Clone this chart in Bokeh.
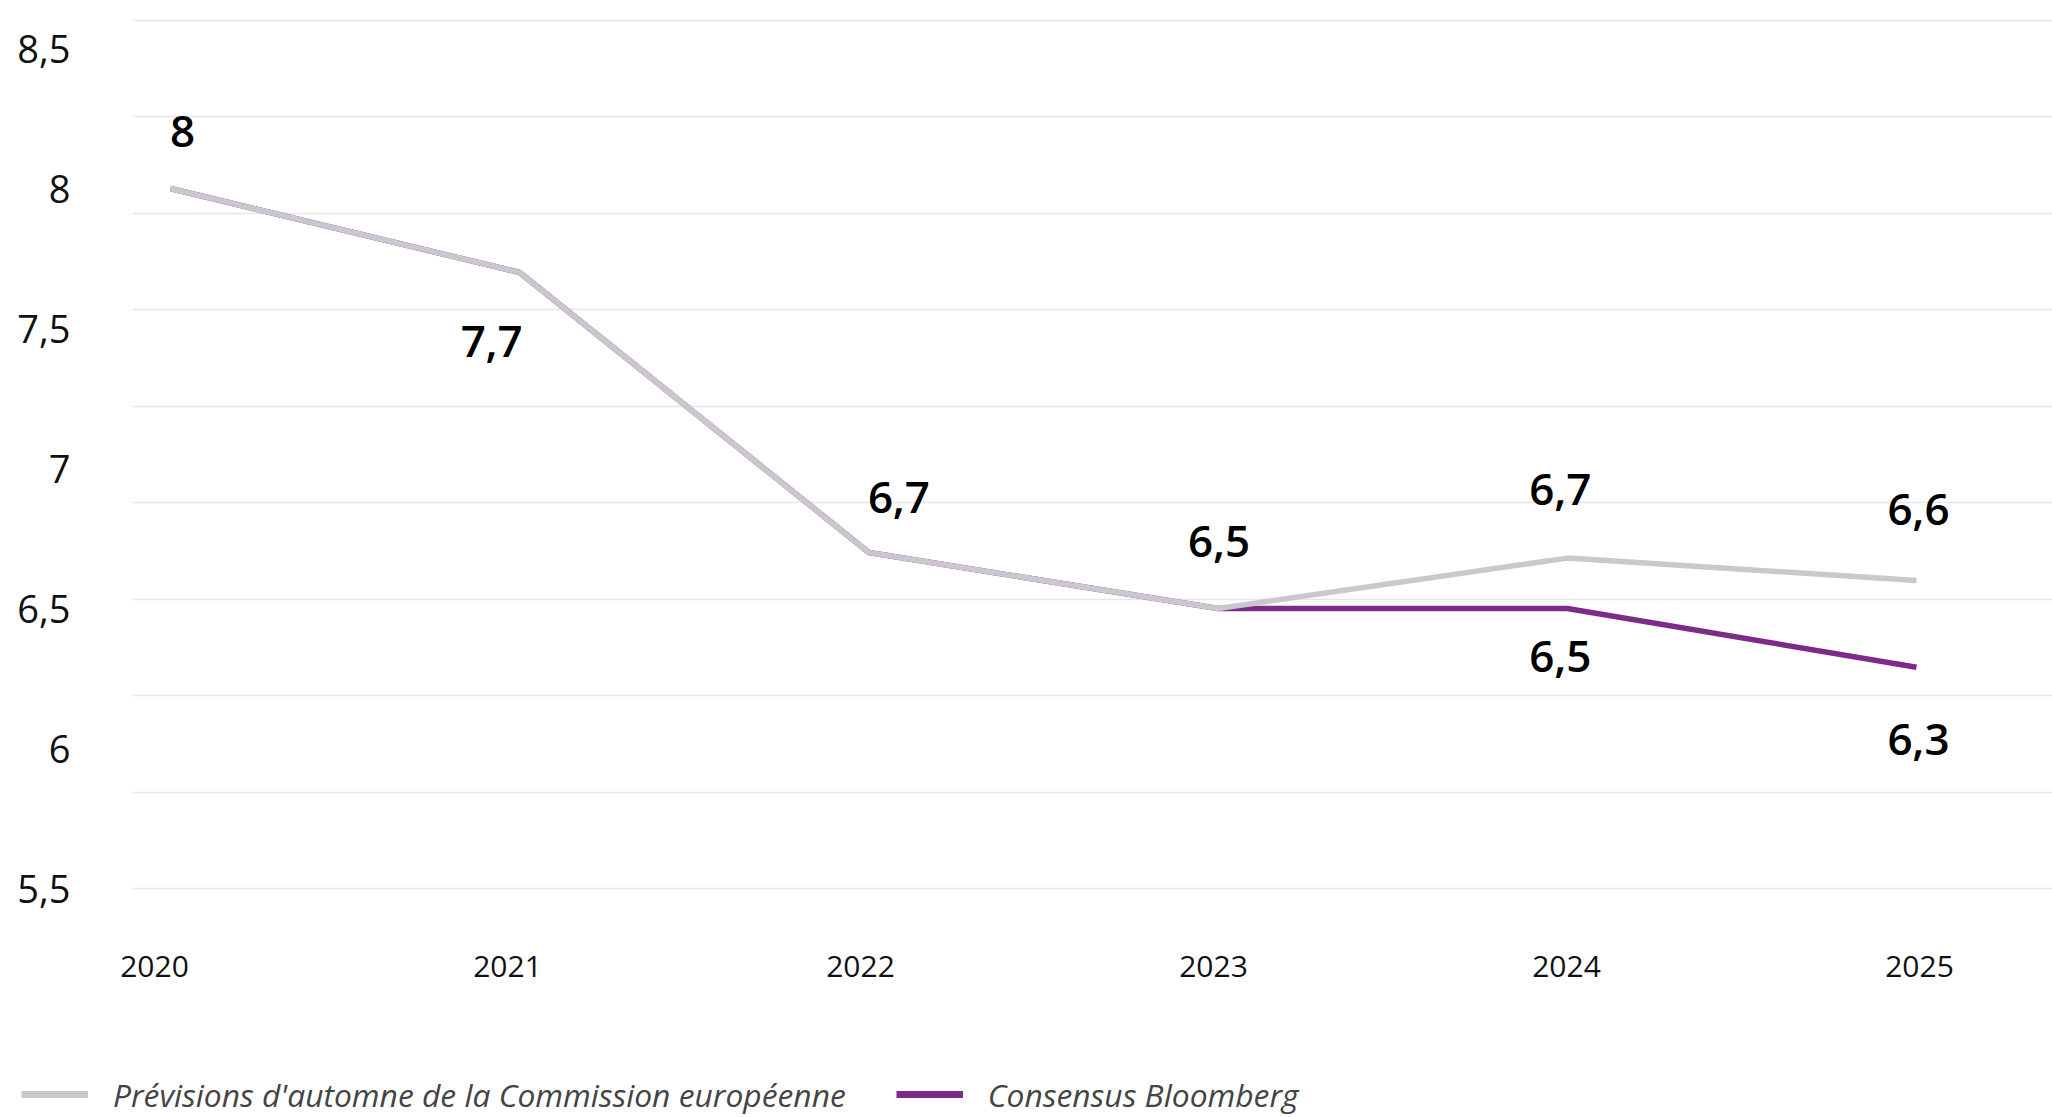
import numpy as np
from bokeh.plotting import figure
from bokeh.models import (ColumnDataSource, FixedTicker, Range1d, Legend, LegendItem,
                          LinearAxis)
from bokeh.core.properties import value
from bokeh.embed import file_html
from bokeh.resources import INLINE

# ---------------- data ----------------
years = [2020, 2021, 2022, 2023, 2024, 2025]
commission = [8.0, 7.7, 6.7, 6.5, 6.68, 6.6]
bloomberg = [8.0, 7.7, 6.7, 6.5, 6.5, 6.29]
y_ticks = [5.5, 6.0, 6.5, 7.0, 7.5, 8.0, 8.5]
y_tick_labels = ["5,5", "6", "6,5", "7", "7,5", "8", "8,5"]
series_names = ["Prévisions d'automne de la Commission européenne", "Consensus Bloomberg"]
bloomberg_label_years = [2024, 2025]

# ---------------- label placement (screen px) ----------------
commission_label_dx = [12, -28, 30, 1, -7, 2]
commission_label_dy = [-57, 69, -55, -67, -69, -71]
bloomberg_label_dx = [-7, 2]
bloomberg_label_dy = [48, 72]

# ---------------- colours / fonts ----------------
GREY = "#ccc6cf"
PURPLE = "#7c2b88"
FONT = "Open Sans"
FONT_SEMIBOLD = "'Open Sans SemiBold', 'Open Sans'"


def fmt(v):
    s = f"{v:.1f}"
    if s.endswith(".0"):
        s = s[:-2]
    return s.replace(".", ",")


# ---------------- geometry ----------------
W = 2052
H_MAIN, H_LEG = 1040, 77
B_LEFT, B_TOP, B_BOTTOM = 132, 10, 140
frame_w = W - B_LEFT
frame_h = H_MAIN - B_TOP - B_BOTTOM
px_per_year = 349.2          # spacing of the data points
x_start = years[0] - 38 / px_per_year
x_end = x_start + frame_w / px_per_year
axis_px_per_year = 353.0     # spacing of the year labels (slightly wider, as in the original)
ax_start = years[0] - 22 / axis_px_per_year
ax_end = ax_start + frame_w / axis_px_per_year
px_per_unit = 280.0
y_start = y_ticks[0] - 12 / px_per_unit
y_end = y_start + frame_h / px_per_unit
grid_top = 8.6

p = figure(width=W, height=H_MAIN, output_backend="svg", toolbar_location=None,
           x_range=Range1d(x_start, x_end), y_range=Range1d(y_start, y_end),
           x_axis_location=None,
           min_border_left=B_LEFT, min_border_right=0, min_border_top=B_TOP,
           min_border_bottom=B_BOTTOM)
p.outline_line_color = None
p.background_fill_color = "white"
p.border_fill_color = "white"
p.extra_x_ranges = {"years_axis": Range1d(ax_start, ax_end)}

# grid
p.xgrid.visible = False
p.ygrid.ticker = FixedTicker(ticks=list(np.linspace(y_ticks[0], grid_top, 10)))
p.ygrid.grid_line_color = "#e6e6e6"
p.ygrid.grid_line_width = 1.5

# y axis
yax = p.yaxis[0]
yax.ticker = FixedTicker(ticks=y_ticks)
yax.major_label_overrides = {t: l for t, l in zip(y_ticks, y_tick_labels)}
yax.axis_line_color = None
yax.major_tick_line_color = None
yax.minor_tick_line_color = None
yax.major_tick_out = 0
yax.major_tick_in = 0
yax.major_label_standoff = 62
yax.major_label_text_font = FONT
yax.major_label_text_font_size = "38px"
yax.major_label_text_color = "#111111"

# x axis
xax = LinearAxis(x_range_name="years_axis", ticker=FixedTicker(ticks=years),
                 major_label_overrides={y: str(y) for y in years},
                 axis_line_color=None, major_tick_line_color=None,
                 minor_tick_line_color=None, major_tick_out=0, major_tick_in=0,
                 major_label_standoff=55, major_label_text_font=FONT,
                 major_label_text_font_size="30px", major_label_text_color="#111111")
p.add_layout(xax, "below")

# lines
src = ColumnDataSource(dict(year=years, commission=commission, bloomberg=bloomberg))
p.line("year", "bloomberg", source=src, line_color=PURPLE, line_width=5.5)
p.line("year", "commission", source=src, line_color=GREY, line_width=5.5)

# data labels
lab_x = list(years) + list(bloomberg_label_years)
lab_y = list(commission) + [bloomberg[years.index(y)] for y in bloomberg_label_years]
lab_dx = commission_label_dx + bloomberg_label_dx
lab_dy = commission_label_dy + bloomberg_label_dy
lab_src = ColumnDataSource(dict(x=lab_x, y=lab_y, text=[fmt(v) for v in lab_y],
                                dx=lab_dx, dy=lab_dy))
p.text(x="x", y="y", text="text", x_offset="dx", y_offset="dy", source=lab_src,
       text_font=value(FONT_SEMIBOLD), text_font_size="44px", text_font_style="normal",
       text_align="center", text_baseline="middle", text_color="#000000")

# ---------------- legend strip (separate figure below the chart) ----------------
pl = figure(width=W, height=H_LEG, output_backend="svg", toolbar_location=None,
            x_range=Range1d(0, 1), y_range=Range1d(0, 1),
            x_axis_location=None, y_axis_location=None,
            min_border_left=0, min_border_right=0, min_border_top=0, min_border_bottom=0)
pl.outline_line_color = None
pl.grid.visible = False
pl.background_fill_color = "white"
pl.border_fill_color = "white"
# same series, kept outside the strip's visible range: only their legend swatches show
lc = pl.line("year", "commission", source=src, line_color=GREY, line_width=7)
lb = pl.line("year", "bloomberg", source=src, line_color=PURPLE, line_width=7)

legend = Legend(items=[LegendItem(label=series_names[0], renderers=[lc]),
                       LegendItem(label=series_names[1], renderers=[lb])],
                orientation="horizontal", location=(21, 1.5),
                glyph_width=67, glyph_height=40, label_height=40,
                label_standoff=25, spacing=50, padding=0, margin=0,
                border_line_color=None, background_fill_alpha=0,
                label_text_font=FONT, label_text_font_size="31.8px",
                label_text_font_style="italic", label_text_color="#444444")
pl.add_layout(legend, "center")

open("out.html", "w").write(file_html([p, pl], INLINE))
